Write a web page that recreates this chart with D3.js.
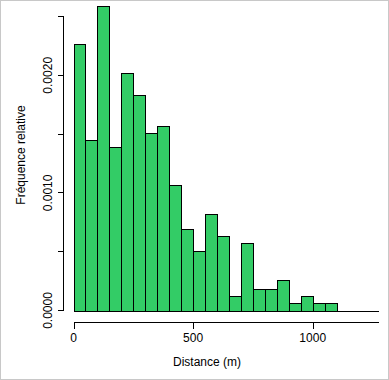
<!DOCTYPE html>
<html>
<head>
<meta charset="utf-8">
<script src="https://cdn.jsdelivr.net/npm/d3@7"></script>
<style>
  body { margin: 0; background: #fff; }
  svg { display: block; }
  text { font-family: "Liberation Sans", Arial, sans-serif; font-size: 12px; fill: #000; }
</style>
</head>
<body>
<div id="chart"></div>
<script>
var width = 389;
var height = 380;

// histogram bins (m) and relative frequencies
var binStart = [0, 50, 100, 150, 200, 250, 300, 350, 400, 450, 500,
                550, 600, 650, 700, 750, 800, 850, 900, 950, 1000, 1050];
var binWidth = 50;
var density = [0.00227, 0.00145, 0.00259, 0.00139, 0.00202, 0.00183, 0.00151,
               0.00157, 0.00107, 0.00069, 0.00051, 0.00082, 0.00063, 0.000125,
               0.00057, 0.000185, 0.000185, 0.000256, 0.0000656, 0.000125,
               0.0000656, 0.0000656];

var xTicks = [0, 500, 1000];
var yTicks = [0, 0.0005, 0.0010, 0.0015, 0.0020, 0.0025];
var yLabels = [0, 0.0010, 0.0020];

var svg = d3.select("#chart").append("svg")
    .attr("width", width)
    .attr("height", height);

// light grey frame round the picture
svg.append("rect")
    .attr("x", 0.5).attr("y", 0.5)
    .attr("width", width - 1).attr("height", height - 1.5)
    .attr("fill", "none")
    .attr("stroke", "#c8c8c8")
    .attr("shape-rendering", "crispEdges");

var xScale = d3.scaleLinear()
    .domain([0, 1275])
    .range([73.5, 378.5]);

var yScale = d3.scaleLinear()
    .domain([0, 0.0025])
    .range([310.5, 16.5]);

// bars
svg.selectAll("rect.bar")
    .data(density)
    .enter()
    .append("rect")
    .attr("class", "bar")
    .attr("x", function(d, i) { return Math.round(xScale(binStart[i])) + 0.5; })
    .attr("width", function(d, i) {
        return Math.round(xScale(binStart[i] + binWidth)) - Math.round(xScale(binStart[i]));
    })
    .attr("y", function(d) { return Math.round(yScale(d)) + 0.5; })
    .attr("height", function(d) { return Math.round(yScale(0)) - Math.round(yScale(d)); })
    .attr("fill", "#33cc66")
    .attr("stroke", "black")
    .attr("stroke-width", 1)
    .attr("shape-rendering", "crispEdges");

// baseline at zero
svg.append("line")
    .attr("x1", xScale(0)).attr("x2", xScale.range()[1])
    .attr("y1", Math.round(yScale(0)) + 0.5).attr("y2", Math.round(yScale(0)) + 0.5)
    .attr("stroke", "black")
    .attr("shape-rendering", "crispEdges");

// x axis
var xAxis = svg.append("g")
    .attr("transform", "translate(0,322.5)");
xAxis.append("line")
    .attr("x1", xScale(0)).attr("x2", xScale.range()[1])
    .attr("y1", 0).attr("y2", 0)
    .attr("stroke", "black")
    .attr("shape-rendering", "crispEdges");
xAxis.selectAll("line.tick")
    .data(xTicks).enter()
    .append("line")
    .attr("class", "tick")
    .attr("x1", function(d) { return Math.round(xScale(d)) + 0.5; })
    .attr("x2", function(d) { return Math.round(xScale(d)) + 0.5; })
    .attr("y1", 0).attr("y2", 6)
    .attr("stroke", "black")
    .attr("shape-rendering", "crispEdges");
xAxis.selectAll("text")
    .data(xTicks).enter()
    .append("text")
    .attr("x", function(d) { return xScale(d); })
    .attr("y", 19)
    .attr("text-anchor", "middle")
    .text(function(d) { return d; });

// y axis
var yAxis = svg.append("g")
    .attr("transform", "translate(63.5,0)");
yAxis.append("line")
    .attr("x1", 0).attr("x2", 0)
    .attr("y1", yScale(0.0025)).attr("y2", yScale(0))
    .attr("stroke", "black")
    .attr("shape-rendering", "crispEdges");
yAxis.selectAll("line.tick")
    .data(yTicks).enter()
    .append("line")
    .attr("class", "tick")
    .attr("x1", -6).attr("x2", 0)
    .attr("y1", function(d) { return Math.round(yScale(d) - 0.5) + 0.5; })
    .attr("y2", function(d) { return Math.round(yScale(d) - 0.5) + 0.5; })
    .attr("stroke", "black")
    .attr("shape-rendering", "crispEdges");
yAxis.selectAll("text")
    .data(yLabels).enter()
    .append("text")
    .attr("transform", function(d) { return "translate(-12," + yScale(d) + ") rotate(-90)"; })
    .attr("text-anchor", "middle")
    .text(function(d) { return d3.format(".4f")(d); });

// axis titles
svg.append("text")
    .attr("x", 207)
    .attr("y", 365.5)
    .attr("text-anchor", "middle")
    .text("Distance (m)");

svg.append("text")
    .attr("transform", "translate(25,155) rotate(-90)")
    .attr("text-anchor", "middle")
    .text("Fréquence relative");
</script>
</body>
</html>
